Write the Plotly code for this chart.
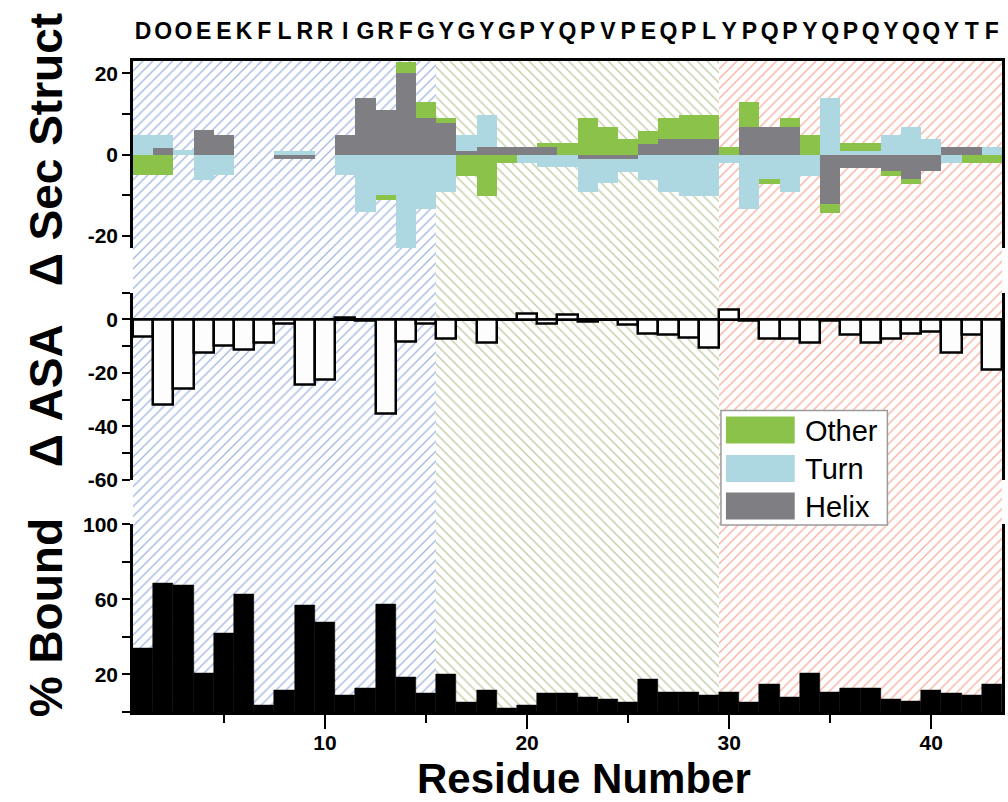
import plotly.graph_objects as go

# ---------------- data ----------------
residues = list(range(1, 44))
sequence = list("DOOEEKFLRRIGRFGYGYGPYQPVPEQPLYPQPYQPQYQQYTF")

# change in secondary structure (%), per residue
helix = [0, 1.7, 0, 6.0, 4.9, 0, 0, -1.0, -1.0, 0, 4.9, 14.0, 10.9, 20.0, 8.9,
         7.8, 0.8, 1.9, 1.9, 1.9, 1.8, 0, -1.0, -1.0, -1.0, 2.7, 3.8, 3.8, 3.8,
         0, 6.8, 6.8, 6.8, 0, -12.1, -3.2, -3.2, -4.1, -6.1, -4.1, 1.9, 1.9, 0]
turn = [4.9, 3.2, 1.0, -6.2, -5.1, 0, 0, 0.8, 0.8, 0, -5.1, -14.1, -10.0, -23.1,
        -13.3, -9.2, 4.1, 7.9, 0, -2.2, -3.1, -3.1, -8.2, -6.1, -3.3, -6.2, -9.2,
        -10.2, -10.3, -2.2, -13.3, -6.1, -9.2, -5.3, 14.0, 0.8, 0.8, 4.9, 6.8, 3.9,
        -2.2, 0, 1.9]
other = [-5.1, -5.1, 0, 0, 0, 0, 0, 0, 0, 0, 0, 0, -1.2, 2.8, 4.1, 1.2, -5.3,
         -10.2, -2.2, 0, 1.0, 2.8, 8.9, 6.8, 3.8, 3.1, 5.1, 6.0, 6.0, 1.8, 6.2,
         -1.2, 2.1, 4.9, -2.2, 2.1, 2.1, -1.2, -1.2, 0, 0, -2.2, -2.2]

# change in accessible surface area
asa = [-6.5, -32.0, -25.7, -12.3, -9.8, -11.2, -8.6, -1.5, -24.3, -22.4, 0.7,
       -0.6, -35.3, -8.3, -1.5, -7.2, 0, -8.7, 0, 2.2, -1.5, 1.6, -1.0, 0, -2.1,
       -5.2, -5.8, -6.8, -10.6, 3.7, -0.3, -7.2, -7.2, -8.5, -0.5, -5.8, -8.7,
       -7.1, -5.2, -4.6, -12.4, -5.8, -18.9]

# percent bound
bound = [33.8, 68.5, 67.6, 20.5, 41.8, 62.6, 3.6, 11.6, 56.8, 47.7, 8.9, 12.5,
         57.5, 18.7, 9.8, 19.9, 5.0, 11.6, 1.8, 3.6, 9.8, 9.8, 7.7, 6.6, 5.0,
         17.4, 10.7, 10.7, 8.9, 10.7, 5.0, 14.8, 7.7, 20.5, 10.7, 12.5, 12.5,
         6.6, 5.7, 11.6, 9.8, 8.7, 14.8]

# shaded regions (residue ranges)
region_start = [0.5, 15.5, 29.5]
region_end = [15.5, 29.5, 43.5]

# tick labels
sec_tickvals = [-20, -10, 0, 10, 20]
sec_ticktext = ["-20", "", "0", "", "20"]
asa_tickvals = [-60, -50, -40, -30, -20, -10, 0, 10]
asa_ticktext = ["-60", "", "-40", "", "-20", "", "0", ""]
bound_tickvals = [0, 20, 40, 60, 80, 100]
bound_ticktext = ["", "20", "", "60", "", "100"]

legend_names = ["Other", "Turn", "Helix"]

# ---------------- style ----------------
FONT = "Liberation Sans, Arial, sans-serif"
COLORS = {"Helix": "#7f7e83", "Turn": "#add8e1", "Other": "#8bc34a"}
HATCH_SHAPE = ["/", "\\", "/"]
HATCH_COLOR = ["#4d74c6", "#889a4e", "#ee6448"]

W, H = 1008, 802
ML, MR, MT, MB = 133, 3, 61, 90
PW, PH = W - ML - MR, H - MT - MB
XR = [0.5, 43.5]


def py(pix):
    """pixel y (from top) -> paper y"""
    return (H - MB - pix) / PH


def px(pix):
    return (pix - ML) / PW


D_TOP = [py(248), 1.0]
D_MID = [py(480), py(292.7)]
D_BOT = [0.0, py(524.3)]

fig = go.Figure()

# background hatched regions
centers = [(a + b) / 2 for a, b in zip(region_start, region_end)]
widths = [b - a for a, b in zip(region_start, region_end)]
fig.add_trace(go.Bar(
    x=centers, y=[1] * len(centers), width=widths,
    marker=dict(color="white", line=dict(width=0),
                pattern=dict(shape=HATCH_SHAPE, fgcolor=HATCH_COLOR,
                             bgcolor="white", size=7, solidity=0.2)),
    xaxis="x", yaxis="y", showlegend=False, hoverinfo="skip"))

# secondary structure changes (stacked)
for name, vals in [("Helix", helix), ("Turn", turn), ("Other", other)]:
    fig.add_trace(go.Bar(
        x=residues, y=vals, width=1, name=name,
        marker=dict(color=COLORS[name], line=dict(width=0)),
        xaxis="x2", yaxis="y2", showlegend=False))

# delta ASA
fig.add_trace(go.Bar(
    x=residues, y=asa, width=1,
    marker=dict(color="#fdfdfd", line=dict(color="black", width=2.5)),
    xaxis="x3", yaxis="y3", showlegend=False))

# percent bound
fig.add_trace(go.Bar(
    x=residues, y=bound, width=1,
    marker=dict(color="black", line=dict(color="black", width=0.5)),
    xaxis="x4", yaxis="y4", showlegend=False))

tickfont = dict(family=FONT, size=21, color="black", weight="bold")
yax_common = dict(ticks="outside", ticklen=8, tickwidth=2, tickcolor="black",
                  showline=True, linecolor="black", linewidth=2.5, mirror=True,
                  showgrid=False, tickmode="array", tickfont=tickfont)

fig.update_layout(
    width=W, height=H,
    margin=dict(l=ML, r=MR, t=MT, b=MB),
    paper_bgcolor="white", plot_bgcolor="rgba(0,0,0,0)",
    barmode="relative", bargap=0,
    font=dict(family=FONT, color="black"),
    xaxis=dict(domain=[0, 1], range=XR, visible=False, anchor="y"),
    yaxis=dict(domain=[0, 1], range=[0, 1], visible=False, anchor="x"),
    xaxis2=dict(domain=[0, 1], range=XR, anchor="y2", side="top",
                tickmode="array", tickvals=residues, ticktext=sequence,
                ticks="", showline=True, linecolor="black", linewidth=2.5,
                showgrid=False, zeroline=False, ticklabelstandoff=10,
                tickfont=dict(family=FONT, size=23, color="black", weight="bold")),
    yaxis2=dict(domain=D_TOP, range=[-23, 23], anchor="x2",
                tickvals=sec_tickvals, ticktext=sec_ticktext, zeroline=False,
                **yax_common),
    xaxis3=dict(domain=[0, 1], range=XR, anchor="y3", visible=False),
    yaxis3=dict(domain=D_MID, range=[-60, 10], anchor="x3",
                tickvals=asa_tickvals, ticktext=asa_ticktext,
                zeroline=True, zerolinecolor="black", zerolinewidth=2.5,
                **yax_common),
    xaxis4=dict(domain=[0, 1], range=XR, anchor="y4",
                tickmode="linear", tick0=0, dtick=10,
                ticks="outside", ticklen=14, tickwidth=2, tickcolor="black",
                minor=dict(ticks="outside", tick0=0, dtick=5, ticklen=8,
                           tickwidth=2, tickcolor="black"),
                showline=True, linecolor="black", linewidth=2.5,
                showgrid=False, zeroline=False, tickfont=tickfont,
                ticklabelstandoff=-4),
    yaxis4=dict(domain=D_BOT, range=[0, 100], anchor="x4",
                tickvals=bound_tickvals, ticktext=bound_ticktext,
                zeroline=False, **yax_common),
)

title_font = dict(family=FONT, size=46, color="black", weight="bold")
annotations = [
    dict(text="Δ Sec Struct", x=px(46), y=py(150), textangle=-90, size=46),
    dict(text="Δ ASA", x=px(46), y=py(396), textangle=-90, size=46),
    dict(text="% Bound", x=px(46), y=py(618), textangle=-90, size=46),
    dict(text="Residue Number", x=px(586), y=py(778), textangle=0, size=42),
]
for a in annotations:
    size = a.pop("size")
    fig.add_annotation(xref="paper", yref="paper", showarrow=False,
                       xanchor="center", yanchor="middle",
                       font=dict(title_font, size=size), **a)

# legend box (drawn as decoration)
fig.add_shape(type="rect", xref="paper", yref="paper",
              x0=px(723), x1=px(890), y0=py(525), y1=py(410.5),
              fillcolor="white", line=dict(color="#9a9a9a", width=1.5),
              layer="above")
sw_top = [416.5, 455, 492.5]
for name, top in zip(legend_names, sw_top):
    fig.add_shape(type="rect", xref="paper", yref="paper",
                  x0=px(728), x1=px(797), y0=py(top + 27), y1=py(top),
                  fillcolor=COLORS[name], line=dict(width=0), layer="above")
    fig.add_annotation(xref="paper", yref="paper", showarrow=False,
                       x=px(805), y=py(top + 14), xanchor="left",
                       yanchor="middle", text=name,
                       font=dict(family=FONT, size=29, color="black"))

fig.write_html("out.html")
